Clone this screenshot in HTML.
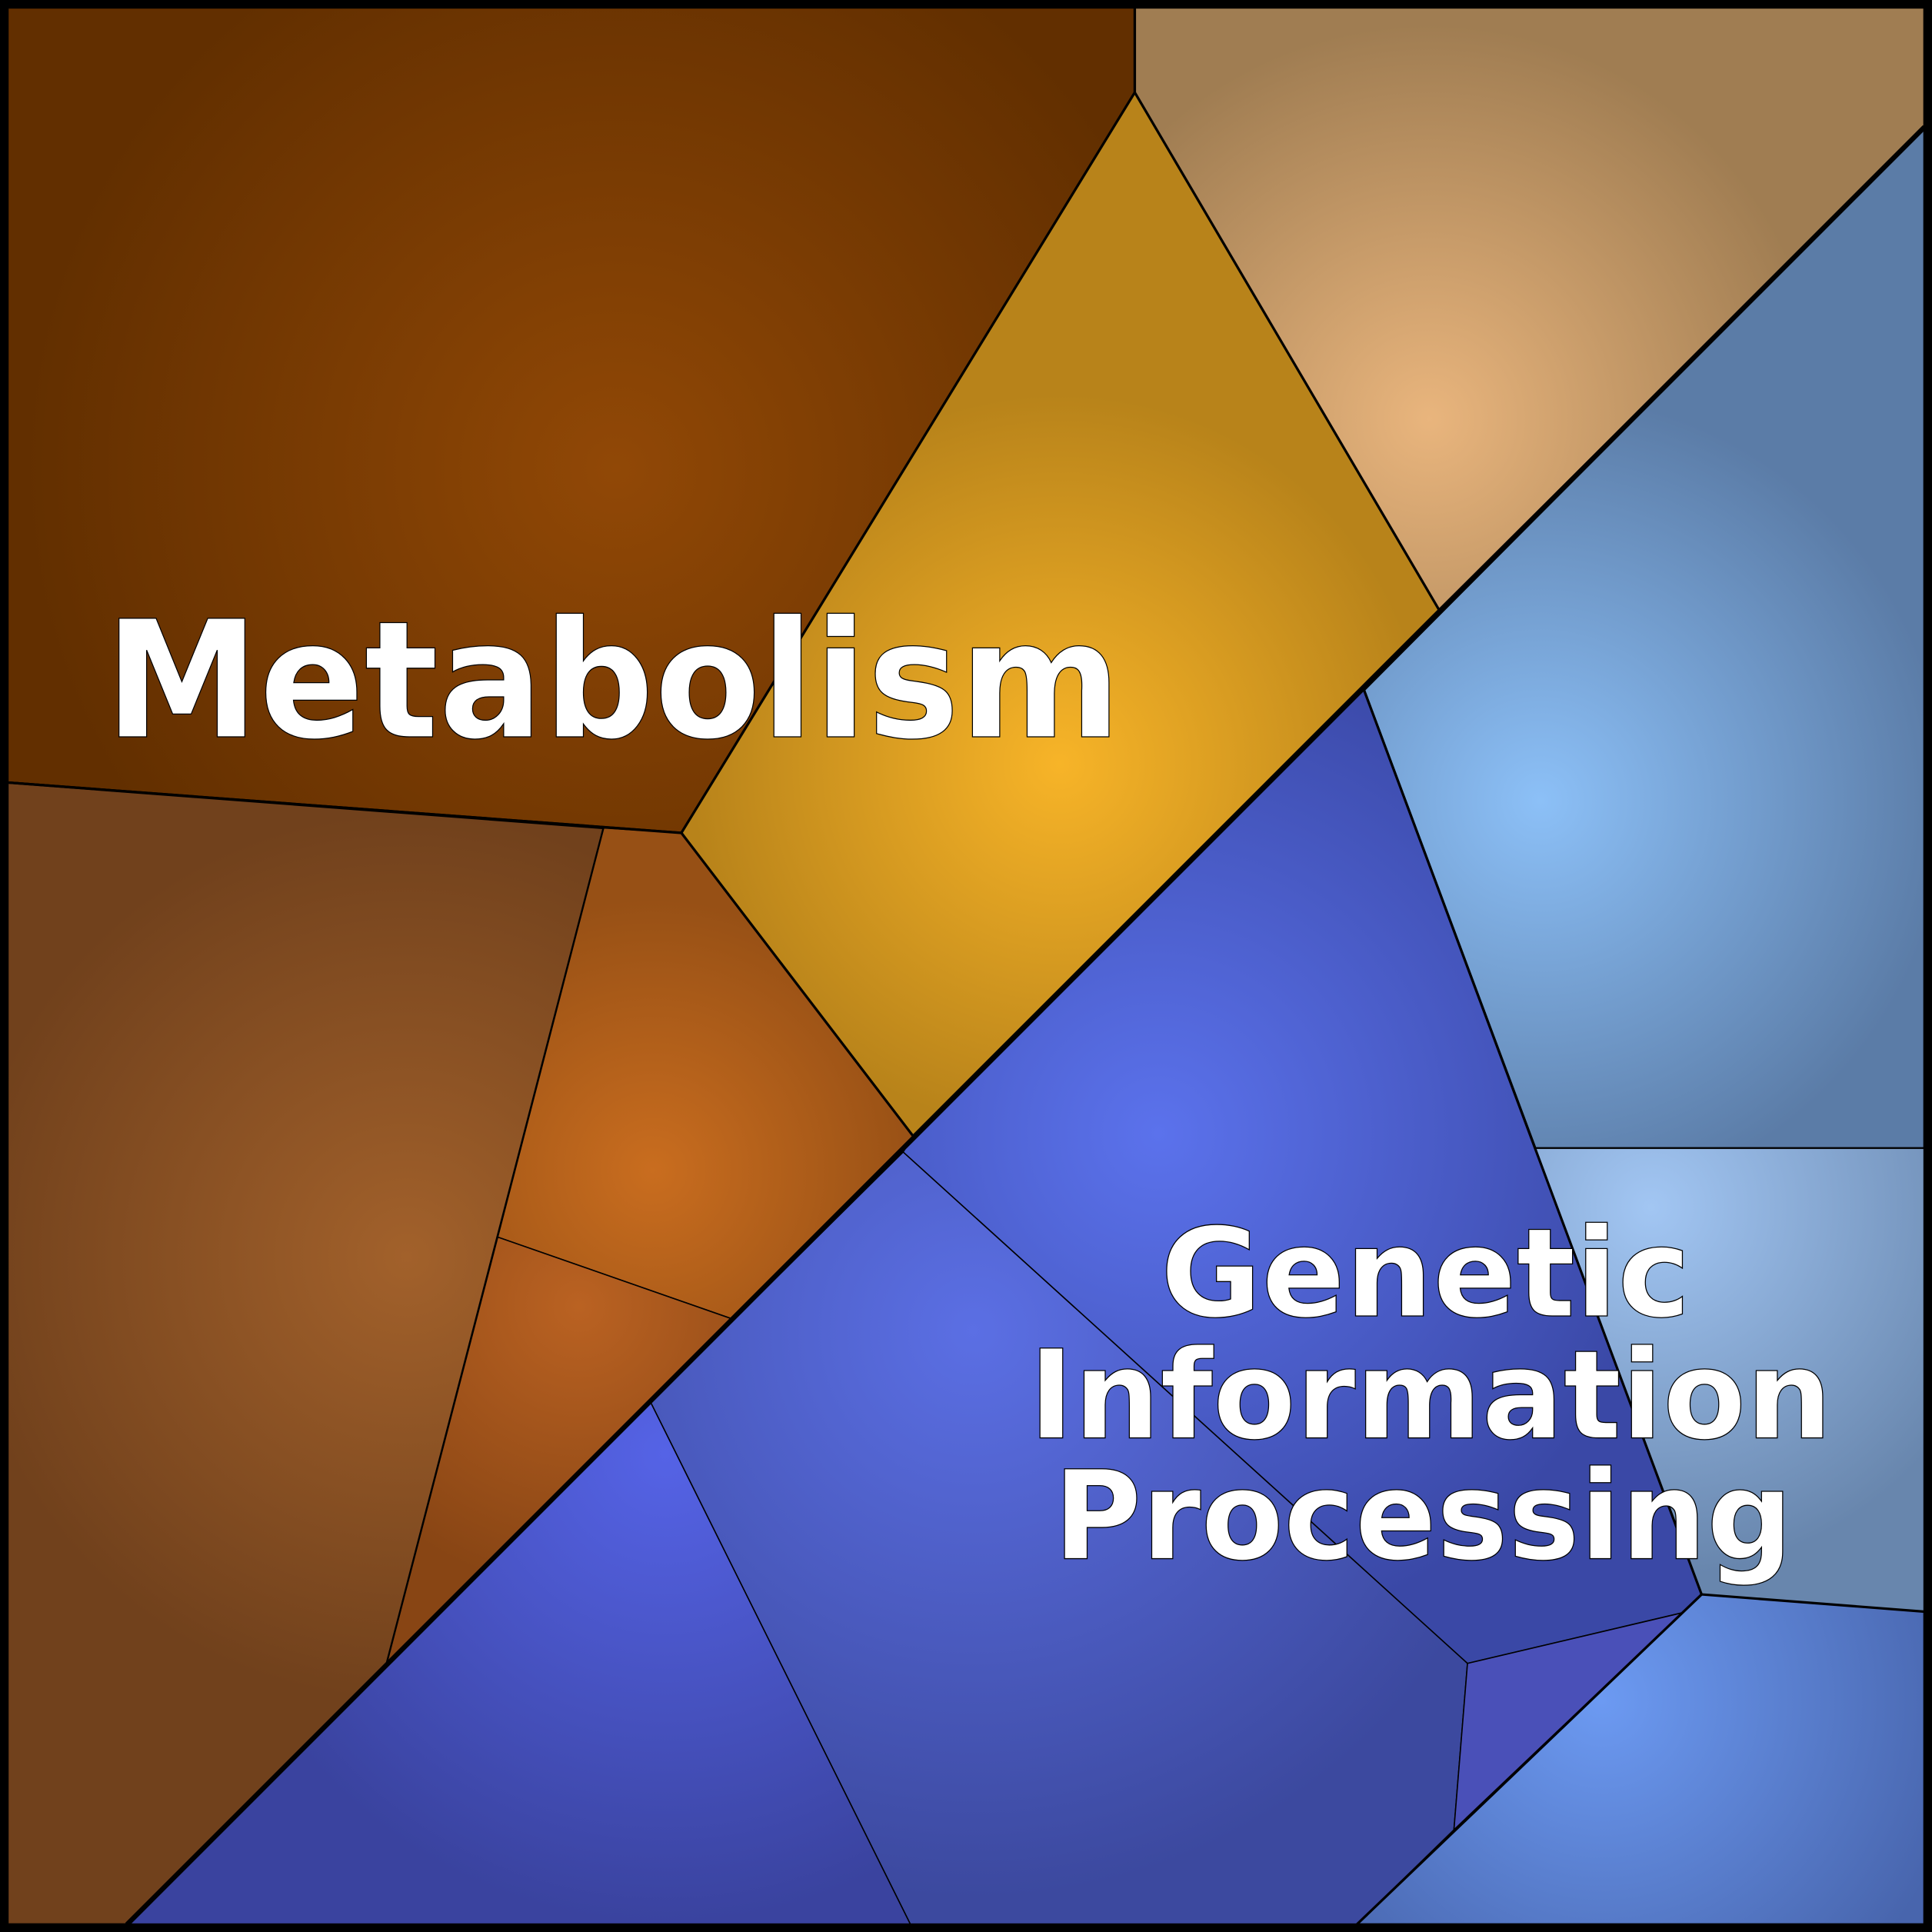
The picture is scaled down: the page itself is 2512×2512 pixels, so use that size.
<!DOCTYPE html>
<html><head><meta charset="utf-8"><style>html,body{margin:0;padding:0;background:#fff}svg{display:block}</style></head><body>
<svg width="2512" height="2512" viewBox="0 0 1568 1568" xmlns="http://www.w3.org/2000/svg">
<defs>
<radialGradient id="g1" gradientUnits="userSpaceOnUse" cx="500" cy="380" r="480"><stop offset="0" stop-color="#914806"/><stop offset="1" stop-color="#622f00"/></radialGradient>
<radialGradient id="g2" gradientUnits="userSpaceOnUse" cx="860" cy="620" r="300"><stop offset="0" stop-color="#f7b428"/><stop offset="1" stop-color="#b8831a"/></radialGradient>
<radialGradient id="g3" gradientUnits="userSpaceOnUse" cx="1160" cy="340" r="320"><stop offset="0" stop-color="#e9b57d"/><stop offset="1" stop-color="#a07d52"/></radialGradient>
<radialGradient id="g4" gradientUnits="userSpaceOnUse" cx="1250" cy="650" r="330"><stop offset="0" stop-color="#8cc0f7"/><stop offset="1" stop-color="#5b7ca7"/></radialGradient>
<radialGradient id="g5" gradientUnits="userSpaceOnUse" cx="1340" cy="980" r="300"><stop offset="0" stop-color="#a2c6f3"/><stop offset="1" stop-color="#6886ad"/></radialGradient>
<radialGradient id="g6" gradientUnits="userSpaceOnUse" cx="1300" cy="1380" r="300"><stop offset="0" stop-color="#6c9af2"/><stop offset="1" stop-color="#4865ad"/></radialGradient>
<radialGradient id="g7" gradientUnits="userSpaceOnUse" cx="940" cy="920" r="420"><stop offset="0" stop-color="#5b72ec"/><stop offset="1" stop-color="#3a48a6"/></radialGradient>
<radialGradient id="g8" gradientUnits="userSpaceOnUse" cx="790" cy="1080" r="460"><stop offset="0" stop-color="#5b6fe4"/><stop offset="1" stop-color="#3c499f"/></radialGradient>
<radialGradient id="g10" gradientUnits="userSpaceOnUse" cx="540" cy="1180" r="380"><stop offset="0" stop-color="#5563e6"/><stop offset="1" stop-color="#3a439f"/></radialGradient>
<radialGradient id="g11" gradientUnits="userSpaceOnUse" cx="330" cy="1020" r="360"><stop offset="0" stop-color="#a2612b"/><stop offset="1" stop-color="#71411c"/></radialGradient>
<radialGradient id="g12" gradientUnits="userSpaceOnUse" cx="530" cy="950" r="220"><stop offset="0" stop-color="#c96d1f"/><stop offset="1" stop-color="#975015"/></radialGradient>
<radialGradient id="g13" gradientUnits="userSpaceOnUse" cx="470" cy="1060" r="230"><stop offset="0" stop-color="#ba6222"/><stop offset="1" stop-color="#884514"/></radialGradient>
</defs>
<g stroke="#000" stroke-width="2" stroke-linejoin="round">
<polygon fill="url(#g1)" points="5,5 921,5 921,75 553,676 5,635"/>
<polygon fill="url(#g2)" points="921,75 1168,495 741,922 553,676"/>
<polygon fill="url(#g3)" points="921,5 1562,5 1562,103 1168,495 921,75"/>
<polygon fill="url(#g4)" points="1562,103 1562,932 1246,932 1107,560"/>
<polygon fill="url(#g5)" stroke-width="1" points="1246,932 1562,932 1562,1308 1381,1294"/>
<polygon fill="url(#g6)" points="1381,1294 1562,1308 1562,1562 1101,1562"/>
<polygon fill="url(#g7)" stroke-width="1" points="1107,560 1381,1294 1365,1309 1191,1350 733,935 741,922"/>
<polygon fill="url(#g8)" stroke-width="1" points="733,935 1191,1350 1180,1485 1101,1562 739,1562 528,1138"/>
<polygon fill="#4a50b8" stroke-width="1" points="1191,1350 1365,1309 1180,1485"/>
<polygon fill="url(#g10)" stroke-width="1" points="528,1138 739,1562 103,1562"/>
<polygon fill="url(#g11)" points="5,635 490,672 314,1350 103,1562 5,1562"/>
<polygon fill="url(#g12)" stroke-width="1" points="490,672 553,676 741,922 593,1070 404,1004"/>
<polygon fill="url(#g13)" stroke-width="1" points="404,1004 593,1070 314,1350"/>
</g>
<line x1="1562" y1="103" x2="103" y2="1562" stroke="#000" stroke-width="4"/>
<polyline points="1107,560 1381,1294 1101,1562" fill="none" stroke="#000" stroke-width="2"/>
<polyline points="5,635 553,676 741,922" fill="none" stroke="#000" stroke-width="2"/>
<rect x="3.5" y="3.5" width="1561" height="1561" fill="none" stroke="#000" stroke-width="7"/>
<g font-family="DejaVu Sans, Liberation Sans, sans-serif" font-weight="bold" fill="#fff" stroke="#000" stroke-width="0.8">
<text x="85" y="598" font-size="132" textLength="825" lengthAdjust="spacingAndGlyphs">Metabolism</text>
<text x="1157" y="1068" font-size="100" text-anchor="middle">Genetic</text>
<text x="1161" y="1167" font-size="100" text-anchor="middle" textLength="652" lengthAdjust="spacingAndGlyphs">Information</text>
<text x="1155" y="1265" font-size="100" text-anchor="middle" textLength="600" lengthAdjust="spacingAndGlyphs">Processing</text>
</g>
</svg>
</body></html>
